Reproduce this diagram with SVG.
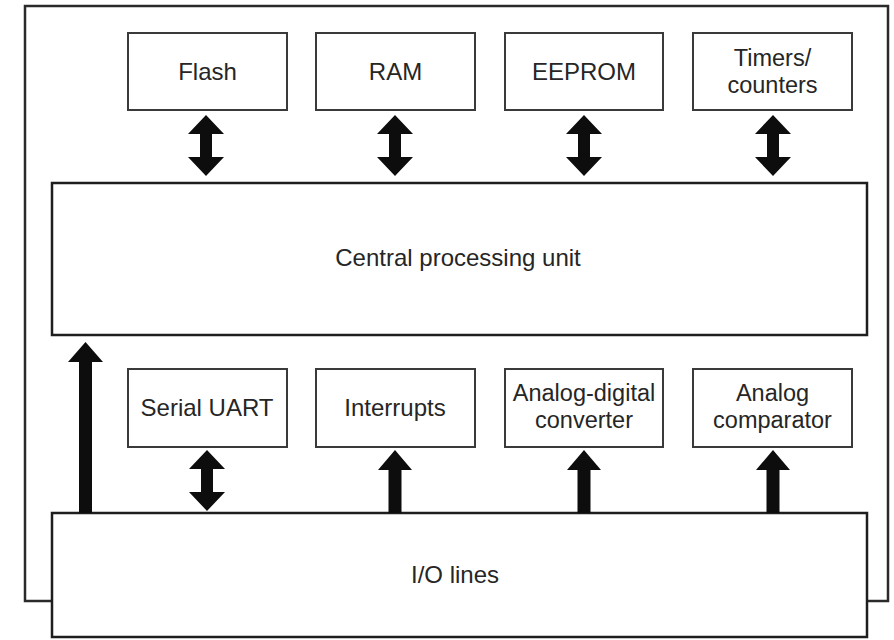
<svg xmlns="http://www.w3.org/2000/svg" width="894" height="640" viewBox="0 0 894 640">
  <style>
    .frame { fill: #fff; stroke: #2a2a2a; stroke-width: 2.5; }
    .big { fill: #fff; stroke: #1e1e1e; stroke-width: 2.5; }
    .box { fill: #fff; stroke: #3a3a3a; stroke-width: 2; }
    .lbl { font-family: "Liberation Sans", Arial, sans-serif; font-size: 24px; fill: #262626; text-anchor: middle; }
    .two { font-size: 23.5px; }
    .arr { fill: #0d0d0d; }
  </style>
  <defs>
    <!-- double-headed vertical arrow, centered on x=0, spanning y 0..61 -->
    <polygon id="dbl" points="0,0 18,19 6,19 6,42 18,42 0,61 -18,42 -6,42 -6,19 -18,19"/>
    <!-- single upward arrow, centered on x=0, spanning y 0..63 -->
    <polygon id="up" points="0,0 17,20 6.5,20 6.5,63 -6.5,63 -6.5,20 -17,20"/>
  </defs>

  <rect width="894" height="640" fill="#fff"/>

  <!-- chip outline -->
  <rect id="chip" class="frame" x="25" y="6" width="863" height="595"/>

  <!-- memory and timer blocks -->
  <g id="flash"><rect class="box" x="128" y="33" width="159" height="77"/><text class="lbl" x="207.5" y="80">Flash</text></g>
  <g id="ram"><rect class="box" x="316" y="33" width="159" height="77"/><text class="lbl" x="395.5" y="80">RAM</text></g>
  <g id="eeprom"><rect class="box" x="505" y="33" width="158" height="77"/><text class="lbl" x="584" y="80">EEPROM</text></g>
  <g id="timers"><rect class="box" x="693" y="33" width="159" height="77"/><text class="lbl two" x="772.5" y="65.5">Timers/</text><text class="lbl two" x="772.5" y="92.5">counters</text></g>

  <!-- CPU -->
  <g id="cpu"><rect class="big" x="52" y="183" width="815" height="152"/><text class="lbl" x="458" y="266">Central processing unit</text></g>

  <!-- peripherals -->
  <g id="uart"><rect class="box" x="128" y="369" width="159" height="78"/><text class="lbl" x="207" y="416">Serial UART</text></g>
  <g id="interrupts"><rect class="box" x="316" y="369" width="159" height="78"/><text class="lbl" x="395" y="416">Interrupts</text></g>
  <g id="adc"><rect class="box" x="505" y="369" width="158" height="78"/><text class="lbl two" x="584" y="401">Analog-digital</text><text class="lbl two" x="584" y="428">converter</text></g>
  <g id="comparator"><rect class="box" x="693" y="369" width="159" height="78"/><text class="lbl two" x="772.5" y="401">Analog</text><text class="lbl two" x="772.5" y="428">comparator</text></g>

  <!-- I/O -->
  <g id="io"><rect class="big" x="52" y="513" width="815" height="124"/><text class="lbl" x="455" y="583">I/O lines</text></g>

  <!-- connectors -->
  <g id="connectors" class="arr">
    <use href="#dbl" x="206" y="115"/>
    <use href="#dbl" x="395" y="115"/>
    <use href="#dbl" x="584" y="115"/>
    <use href="#dbl" x="773" y="115"/>
    <use href="#dbl" x="207" y="450"/>
    <use href="#up" x="395" y="450"/>
    <use href="#up" x="584" y="450"/>
    <use href="#up" x="773" y="450"/>
    <polygon points="85.5,342 103,362 92,362 92,513 79,513 79,362 68,362"/>
  </g>
</svg>
